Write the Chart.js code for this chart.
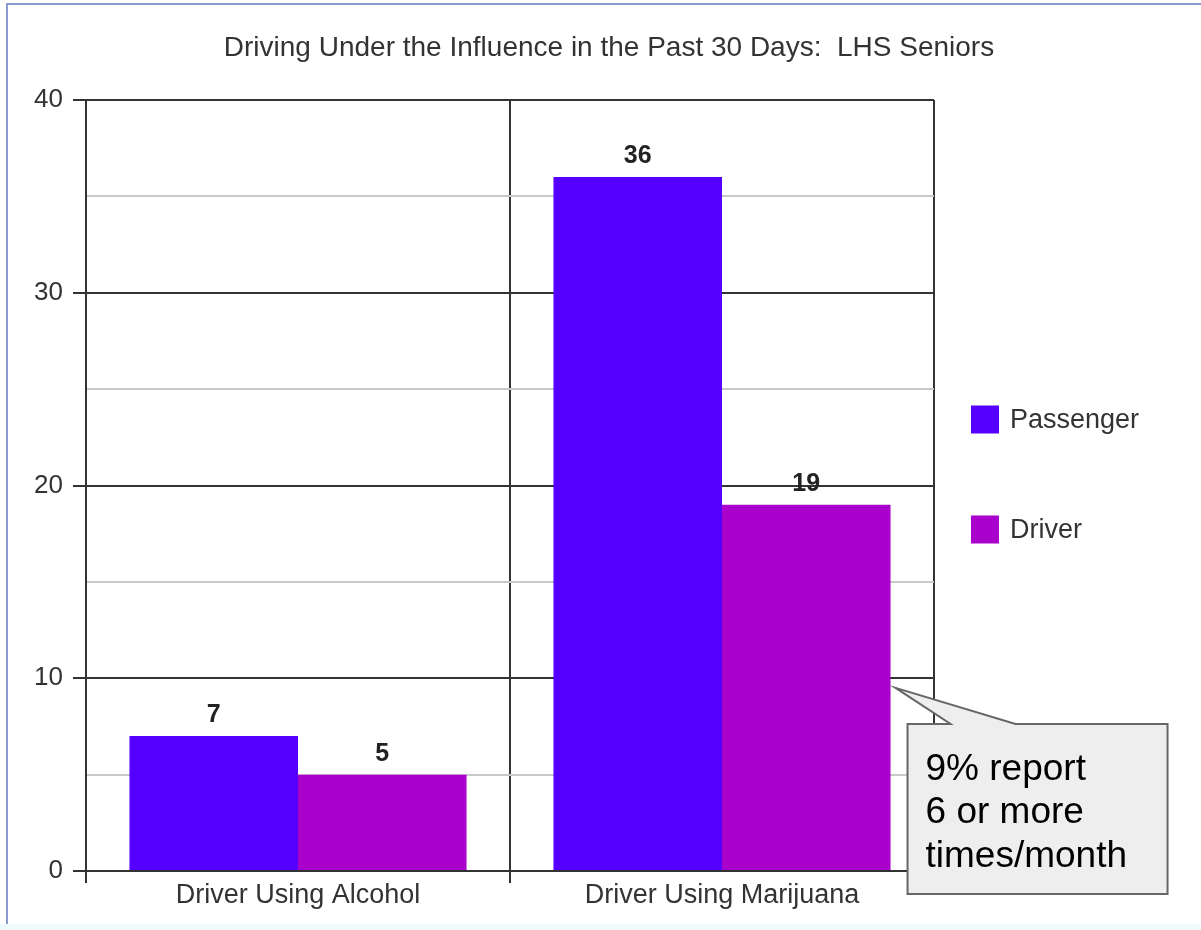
<!DOCTYPE html>
<html>
<head>
<meta charset="utf-8">
<title>Driving Under the Influence</title>
<script src="https://cdn.jsdelivr.net/npm/chart.js@4.4.1/dist/chart.umd.min.js"></script>
<style>
  html, body { margin: 0; padding: 0; background: #fff; }
  body { width: 1201px; height: 930px; position: relative; overflow: hidden; }
  .frame {
    position: absolute; left: 6px; top: 3px; right: 0; bottom: 6px;
    border-left: 2px solid #8a9bcc; border-top: 2px solid #8a9bcc;
  }
  .base { position: absolute; left: 0; right: 0; bottom: 0; height: 6px; background: #f0fbfb; }
  #chart { position: absolute; left: 0; top: 0; }
</style>
</head>
<body>
<div class="frame"></div>
<div class="base"></div>
<canvas id="chart" width="1201" height="930" aria-label="Bar Chart"></canvas>
<script>
const categories = ['Driver Using Alcohol', 'Driver Using Marijuana'];
const seriesNames = ['Passenger', 'Driver'];
const passengerValues = [7, 36];
const driverValues = [5, 19];
const seriesColors = ['#5500ff', '#aa00cc'];
const yTicks = [0, 10, 20, 30, 40];

const titleText = 'Driving Under the Influence in the Past 30 Days:  LHS Seniors';
const noteLines = ['9% report', '6 or more', 'times/month'];
const noteValue = 9.5; // where the callout points on the marijuana driver bar

const FONT = '"Liberation Sans", Arial, sans-serif';

// title, legend, value labels and the callout box
const extrasPlugin = {
  id: 'extras',
  afterDatasetsDraw(chart) {
    const { ctx, chartArea, scales } = chart;
    ctx.save();

    // title
    ctx.fillStyle = '#333';
    ctx.font = '28px ' + FONT;
    ctx.textAlign = 'center';
    ctx.textBaseline = 'alphabetic';
    ctx.fillText(titleText, 609, 56);

    // values above each bar
    ctx.font = 'bold 25px ' + FONT;
    ctx.fillStyle = '#222';
    chart.data.datasets.forEach((ds, i) => {
      chart.getDatasetMeta(i).data.forEach((bar, j) => {
        ctx.fillText(String(ds.data[j]), bar.x, bar.y - 14);
      });
    });

    // legend
    const midY = (chartArea.top + chartArea.bottom) / 2 - 11;
    ctx.font = '27px ' + FONT;
    ctx.textAlign = 'left';
    ctx.textBaseline = 'middle';
    seriesNames.forEach((name, i) => {
      const cy = midY + (i - 0.5) * 110;
      const x = chartArea.right + 37;
      ctx.fillStyle = seriesColors[i];
      ctx.fillRect(x, cy - 14, 28, 28);
      ctx.fillStyle = '#333';
      ctx.fillText(name, x + 39, cy + 1);
    });

    // callout pointing at the marijuana driver bar
    const bar = chart.getDatasetMeta(1).data[1];
    const tipX = bar.x + bar.width / 2 + 5;
    const tipY = scales.y.getPixelForValue(noteValue);
    const bx = tipX + 12, by = tipY + 36, bw = 260, bh = 170;
    ctx.beginPath();
    ctx.moveTo(bx, by);
    ctx.lineTo(tipX + 55, by);
    ctx.lineTo(tipX, tipY);
    ctx.lineTo(tipX + 120, by);
    ctx.lineTo(bx + bw, by);
    ctx.lineTo(bx + bw, by + bh);
    ctx.lineTo(bx, by + bh);
    ctx.closePath();
    ctx.fillStyle = '#eeeeee';
    ctx.fill();
    ctx.strokeStyle = '#666';
    ctx.lineWidth = 2;
    ctx.stroke();

    ctx.fillStyle = '#000';
    ctx.font = '37px ' + FONT;
    ctx.textBaseline = 'alphabetic';
    noteLines.forEach((line, i) => {
      ctx.fillText(line, bx + 18, by + 56 + i * 43.5);
    });

    ctx.restore();
  }
};

const ctx = document.getElementById('chart');

new Chart(ctx, {
  type: 'bar',
  data: {
    labels: categories,
    datasets: [
      {
        label: seriesNames[0],
        data: passengerValues,
        backgroundColor: seriesColors[0],
        categoryPercentage: 0.795,
        barPercentage: 1.0,
      },
      {
        label: seriesNames[1],
        data: driverValues,
        backgroundColor: seriesColors[1],
        categoryPercentage: 0.795,
        barPercentage: 1.0,
      },
    ]
  },
  options: {
    responsive: false,
    animation: false,
    devicePixelRatio: 1,
    layout: {
      padding: { left: 0, right: 267, top: 100, bottom: 0 },
    },
    plugins: {
      legend: { display: false },
      tooltip: { enabled: false },
    },
    scales: {
      x: {
        afterFit: (scale) => { scale.height = 59; },
        border: { color: '#333', width: 2 },
        grid: {
          offset: true,
          color: '#333',
          lineWidth: 2,
          tickLength: 12,
        },
        ticks: {
          color: '#333',
          padding: -4,
          font: { family: FONT, size: 27 },
        },
      },
      y: {
        min: 0,
        max: 40,
        afterFit: (scale) => { scale.width = 86; },
        border: { color: '#333', width: 2 },
        grid: {
          lineWidth: 2,
          tickLength: 13,
          // black lines on the labelled ticks, light grey in between
          color: (c) => yTicks.includes(c.tick.value) ? '#333' : '#c8c8c8',
          tickColor: (c) => yTicks.includes(c.tick.value) ? '#333' : 'rgba(0,0,0,0)',
        },
        ticks: {
          stepSize: 5,
          color: '#333',
          padding: 10,
          font: { family: FONT, size: 26 },
          callback: (v) => yTicks.includes(v) ? v : '',
        },
      },
    },
  },
  plugins: [extrasPlugin],
});
</script>
</body>
</html>
